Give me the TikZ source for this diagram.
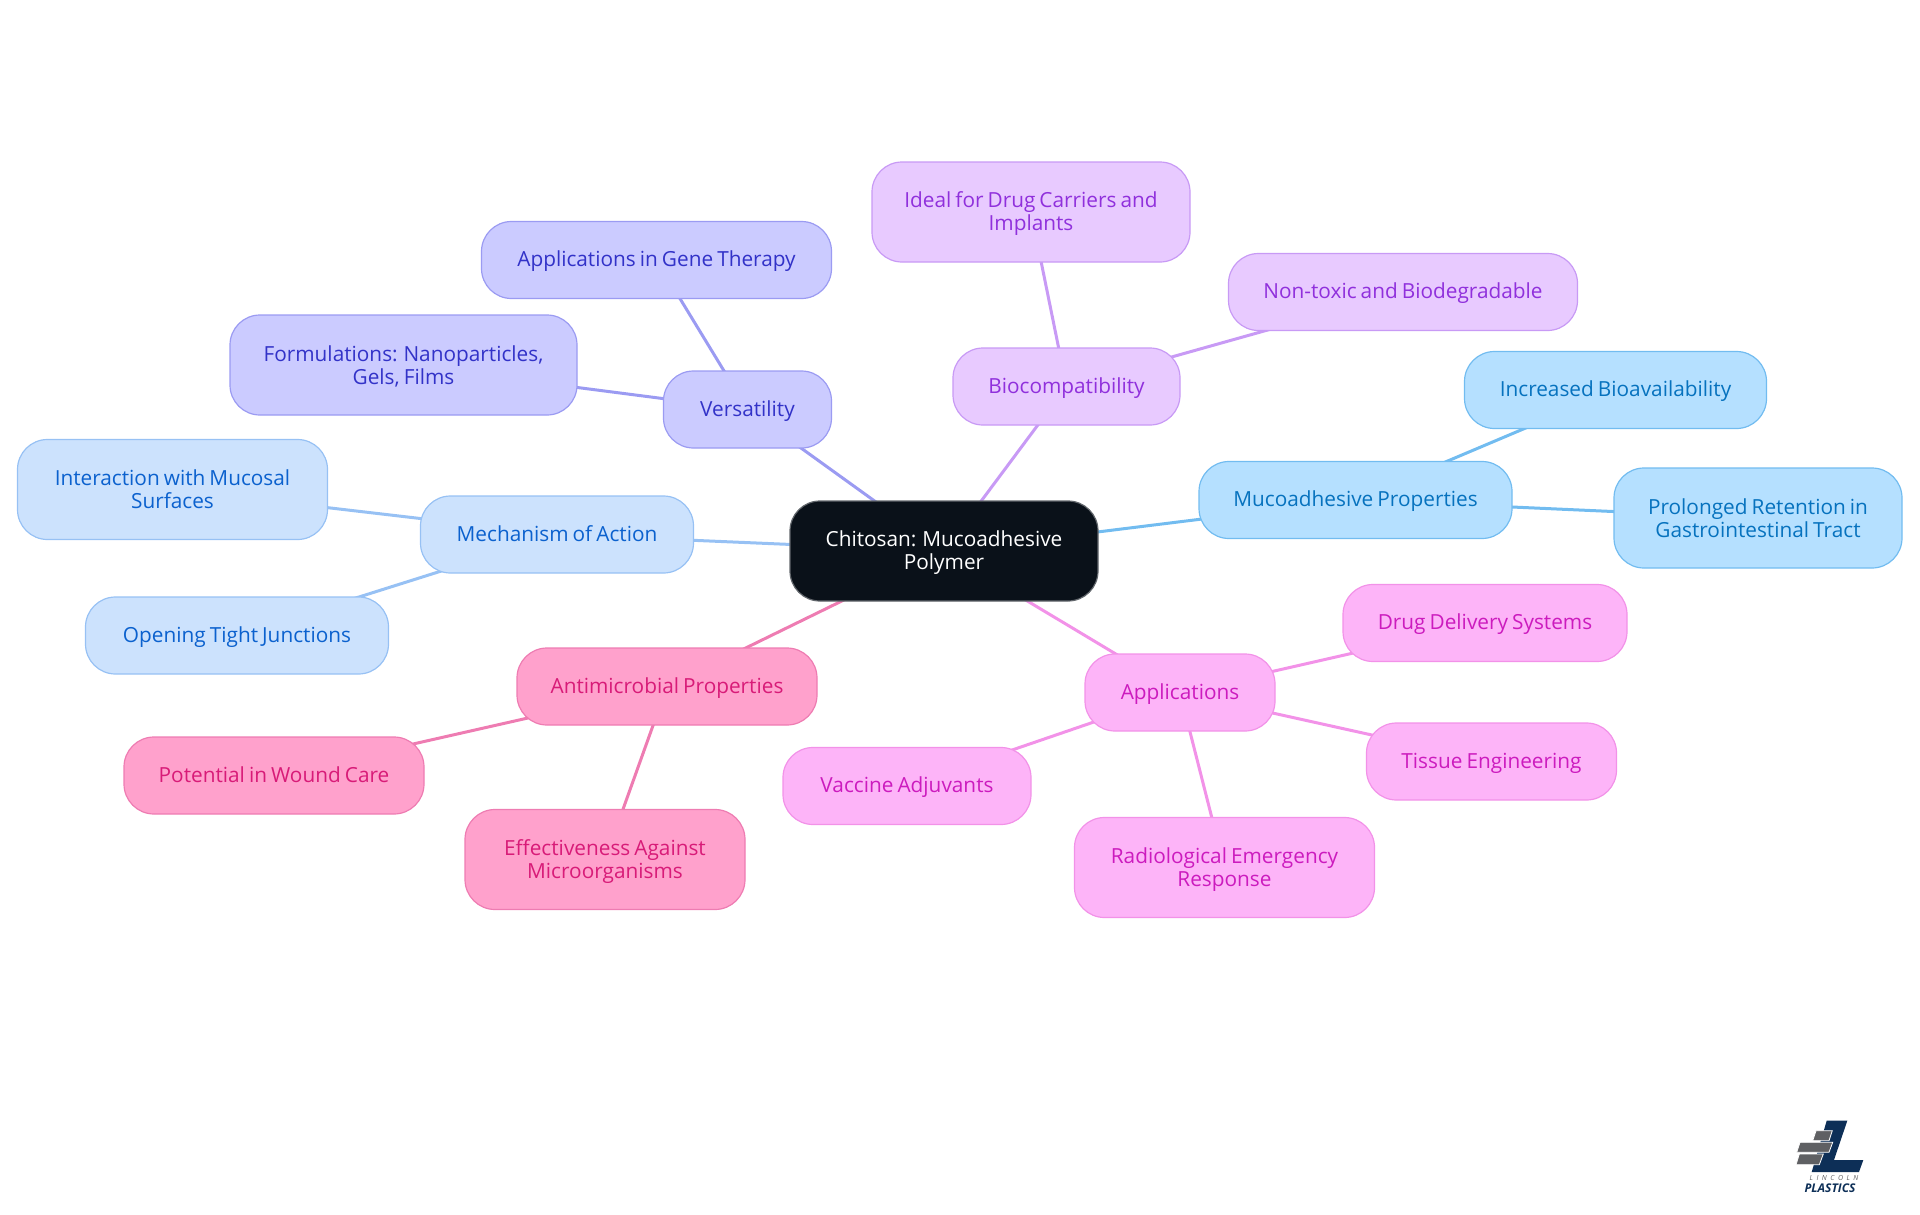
\documentclass[tikz,border=0pt]{standalone}
\usepackage{fontspec}
\setmainfont[WordSpace=0.75]{Open Sans}
\usetikzlibrary{backgrounds}
\definecolor{rootfill}{HTML}{0A1119}
\definecolor{rootline}{HTML}{62676C}
\definecolor{mechfill}{HTML}{CCE2FD}
\definecolor{mechline}{HTML}{97C1F4}
\definecolor{mechtext}{HTML}{0B61CE}
\definecolor{versfill}{HTML}{CBCBFF}
\definecolor{versline}{HTML}{9B9BF2}
\definecolor{verstext}{HTML}{3232C8}
\definecolor{biofill}{HTML}{E8CAFF}
\definecolor{bioline}{HTML}{C89AF5}
\definecolor{biotext}{HTML}{9030DC}
\definecolor{mucofill}{HTML}{B5E0FF}
\definecolor{mucoline}{HTML}{72BCF0}
\definecolor{mucotext}{HTML}{0672BE}
\definecolor{appfill}{HTML}{FDB4F8}
\definecolor{appline}{HTML}{F292E8}
\definecolor{apptext}{HTML}{CC1BBE}
\definecolor{antifill}{HTML}{FFA1CC}
\definecolor{antiline}{HTML}{EE7CB2}
\definecolor{antitext}{HTML}{D81B78}
\definecolor{logonavy}{HTML}{0D2F57}
\definecolor{logogrey}{HTML}{5F6063}
\newcommand{\linestrut}{\rule[-4pt]{0pt}{22pt}}
\newcommand{\topstrut}{\rule[-4pt]{0pt}{23pt}}
\newcommand{\lowstrut}{\rule[-4pt]{0pt}{15pt}}
\tikzstyle{terminator}=[rectangle,
                        rounded corners=30pt,
                        line width=1.2pt,
                        align=center,
                        inner sep=0pt,
                        font=\fontsize{20.8}{23}\selectfont
                       ]
\tikzstyle{single}=[terminator, minimum height=77pt,
                    execute at begin node=\linestrut]
\tikzstyle{twoline}=[terminator, minimum height=100pt,
                     execute at end node=\lowstrut]
\tikzstyle{mech}=[draw=mechline, fill=mechfill, text=mechtext]
\tikzstyle{vers}=[draw=versline, fill=versfill, text=verstext]
\tikzstyle{bio}=[draw=bioline, fill=biofill, text=biotext]
\tikzstyle{muco}=[draw=mucoline, fill=mucofill, text=mucotext]
\tikzstyle{app}=[draw=appline, fill=appfill, text=apptext]
\tikzstyle{anti}=[draw=antiline, fill=antifill, text=antitext]
\tikzstyle{edge}=[line width=3pt]

\begin{document}
\begin{tikzpicture}[x=1pt, y=-1pt]
  \useasboundingbox (0, 0) rectangle (1920, 1215);

  \node at (944, 551) (root) [twoline, minimum width=308pt, draw=rootline, fill=rootfill, text=white] {\topstrut Chitosan: Mucoadhesive\\Polymer};

  \node at (557, 534.5) (mech) [single, mech, minimum width=273pt] {Mechanism of Action};
  \node at (172.5, 489.5) (mech1) [twoline, mech, minimum width=310pt] {\topstrut Interaction with Mucosal\\Surfaces};
  \node at (237, 635.5) (mech2) [single, mech, minimum width=303pt] {Opening Tight Junctions};

  \node at (747.5, 409.5) (vers) [single, vers, minimum width=168pt] {Versatility};
  \node at (656.5, 260) (vers1) [single, vers, minimum width=350pt] {Applications in Gene Therapy};
  \node at (403.5, 365) (vers2) [twoline, vers, minimum width=347pt] {\topstrut Formulations: Nanoparticles,\\Gels, Films};

  \node at (1066.5, 386.5) (bio) [single, bio, minimum width=227pt] {Biocompatibility};
  \node at (1031, 212) (bio1) [twoline, bio, minimum width=318pt] {\topstrut Ideal for Drug Carriers and\\Implants};
  \node at (1403, 292) (bio2) [single, bio, minimum width=349pt] {Non-toxic and Biodegradable};

  \node at (1355.5, 500) (muco) [single, muco, minimum width=313pt] {Mucoadhesive Properties};
  \node at (1615.5, 390) (muco1) [single, muco, minimum width=302pt] {Increased Bioavailability};
  \node at (1758, 518) (muco2) [twoline, muco, minimum width=288pt] {\topstrut Prolonged Retention in\\Gastrointestinal Tract};

  \node at (1180, 692.5) (app) [single, app, minimum width=190pt] {Applications};
  \node at (1485, 623) (app1) [single, app, minimum width=284pt] {Drug Delivery Systems};
  \node at (1491.5, 761.5) (app2) [single, app, minimum width=250pt] {Tissue Engineering};
  \node at (1224.5, 867.5) (app3) [twoline, app, minimum width=300pt] {\topstrut Radiological Emergency\\Response};
  \node at (907, 786) (app4) [single, app, minimum width=248pt] {Vaccine Adjuvants};

  \node at (667, 686.5) (anti) [single, anti, minimum width=300pt] {Antimicrobial Properties};
  \node at (274, 775.5) (anti1) [single, anti, minimum width=300pt] {Potential in Wound Care};
  \node at (605, 859.5) (anti2) [twoline, anti, minimum width=280pt] {\topstrut Effectiveness Against\\Microorganisms};

  \begin{scope}[on background layer]
    \draw[edge, mechline] (root.center) -- (mech.center);
    \draw[edge, mechline] (mech.center) -- (mech1.center);
    \draw[edge, mechline] (mech.center) -- (mech2.center);
    \draw[edge, versline] (root.center) -- (vers.center);
    \draw[edge, versline] (vers.center) -- (vers1.center);
    \draw[edge, versline] (vers.center) -- (vers2.center);
    \draw[edge, bioline] (root.center) -- (bio.center);
    \draw[edge, bioline] (bio.center) -- (bio1.center);
    \draw[edge, bioline] (bio.center) -- (bio2.center);
    \draw[edge, mucoline] (root.center) -- (muco.center);
    \draw[edge, mucoline] (muco.center) -- (muco1.center);
    \draw[edge, mucoline] (muco.center) -- (muco2.center);
    \draw[edge, appline] (root.center) -- (app.center);
    \draw[edge, appline] (app.center) -- (app1.center);
    \draw[edge, appline] (app.center) -- (app2.center);
    \draw[edge, appline] (app.center) -- (app3.center);
    \draw[edge, appline] (app.center) -- (app4.center);
    \draw[edge, antiline] (root.center) -- (anti.center);
    \draw[edge, antiline] (anti.center) -- (anti1.center);
    \draw[edge, antiline] (anti.center) -- (anti2.center);
  \end{scope}

  \fill[logonavy] (1826.7, 1120.7) -- (1847.3, 1120.7) -- (1834, 1160) -- (1863.3, 1160) -- (1859, 1172) -- (1811.7, 1172) -- cycle;
  \filldraw[logogrey, draw=white, line width=0.8pt] (1816, 1130.7) -- (1832.3, 1130.7) -- (1829, 1140.7) -- (1812.7, 1140.7) -- cycle;
  \filldraw[logogrey, draw=white, line width=0.8pt] (1800, 1142.3) -- (1832.7, 1142.3) -- (1829, 1152.3) -- (1796.7, 1152.3) -- cycle;
  \filldraw[logogrey, draw=white, line width=0.8pt] (1799.3, 1154) -- (1823.3, 1154) -- (1819.3, 1164.7) -- (1796, 1164.7) -- cycle;
  \node at (1834, 1178) (lincoln) [inner sep=0pt, text=logogrey, font=\fontsize{7}{7}\selectfont\itshape\addfontfeature{LetterSpace=50}] {LINCOLN};
  \node at (1830, 1188.5) (plastics) [inner sep=0pt, text=logonavy, font=\fontsize{12}{12}\selectfont\bfseries\itshape] {PLASTICS};
\end{tikzpicture}
\end{document}
